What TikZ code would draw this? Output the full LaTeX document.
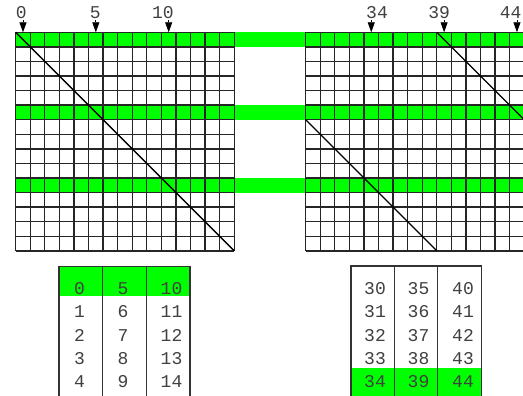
\documentclass[tikz,border=0pt]{standalone}
\usepackage{fontspec}
\setmonofont{Liberation Mono}
\usetikzlibrary{arrows.meta}
\definecolor{grn}{RGB}{0,255,0}
\begin{document}
\begin{tikzpicture}[x=1pt,y=-1pt,
  gridline/.style={line width=1.3pt, black!85},
  diag/.style={line width=1.3pt, black},
  tline/.style={line width=1.3pt, black!80},
  lbl/.style={font=\ttfamily\fontsize{18}{18}\selectfont, text=black!75, inner sep=0pt, anchor=base},
  num/.style={font=\ttfamily\fontsize{18}{18}\selectfont, text=black!75, inner sep=0pt, anchor=base west},
  arr/.style={-{Triangle[width=7pt,length=10pt]}, line width=0.8pt}]
\useasboundingbox (0,0) rectangle (523,396);
\clip (0,0) rectangle (523,396);
\def\c{14.57}
\def\xa{15.7}
\def\xb{305.7}
\def\ya{32.3}
% green bands
\foreach \r in {0,5,10}
  \fill[grn] (\xa,{\ya+\r*\c}) rectangle ({\xb+15*\c},{\ya+(\r+1)*\c});
% grids
\foreach \X in {\xa,\xb} {
  \foreach \i in {0,...,15} {
    \draw[gridline] ({\X+\i*\c},\ya) -- ({\X+\i*\c},{\ya+15*\c});
    \draw[gridline] (\X,{\ya+\i*\c}) -- ({\X+15*\c},{\ya+\i*\c});
  }
}
% diagonals
\draw[diag] (\xa,\ya) -- ({\xa+15*\c},{\ya+15*\c});
\draw[diag] ({\xb+9*\c},\ya) -- ({\xb+15*\c},{\ya+6*\c});
\draw[diag] (\xb,{\ya+6*\c}) -- ({\xb+9*\c},{\ya+15*\c});
% labels and arrows
\coordinate (t0) at ({\xa+0.5*\c},\ya);
\coordinate (t5) at ({\xa+5.5*\c},\ya);
\coordinate (t10) at ({\xa+10.5*\c},\ya);
\coordinate (t34) at ({\xb+4.5*\c},\ya);
\coordinate (t39) at ({\xb+9.5*\c},\ya);
\coordinate (t44) at ({\xb+14.5*\c},\ya);
\node[lbl] (l0) at (21.3,19) {0};
\node[lbl] (l5) at (95.3,19) {5};
\node[lbl] (l10) at (163,19) {10};
\node[lbl] (l34) at (377,19) {34};
\node[lbl] (l39) at (439.2,19) {39};
\node[lbl] (l44) at (510.7,19) {44};
\foreach \n in {0,5,10,34,39,44}
  \draw[arr] ([yshift=-1pt]l\n.south -| t\n) -- (t\n);
% left table
\fill[grn] (59,266.5) rectangle (190,295.5);
\draw[tline] (59,400) -- (59,266.5) -- (190,266.5) -- (190,400);
\draw[tline] (102.7,266.5) -- (102.7,400);
\draw[tline] (146.7,266.5) -- (146.7,400);
% right table
\fill[grn] (351,368) rectangle (481.7,400);
\draw[tline] (351,400) -- (351,266) -- (481.7,266) -- (481.7,400);
\draw[tline] (394.3,266) -- (394.3,400);
\draw[tline] (437.7,266) -- (437.7,400);
% table numbers
\foreach \k in {0,...,4} {
  \pgfmathsetmacro{\yy}{294.5+\k*23.3}
  \pgfmathtruncatemacro{\a}{\k}
  \pgfmathtruncatemacro{\b}{\k+5}
  \pgfmathtruncatemacro{\cc}{\k+10}
  \node[num] (la\k) at (73.9,\yy) {\a};
  \node[num] (lb\k) at (117.5,\yy) {\b};
  \node[num] (lc\k) at (160.5,\yy) {\cc};
  \pgfmathtruncatemacro{\d}{\k+30}
  \pgfmathtruncatemacro{\e}{\k+35}
  \pgfmathtruncatemacro{\f}{\k+40}
  \node[num] (ra\k) at (364,\yy) {\d};
  \node[num] (rb\k) at (407.5,\yy) {\e};
  \node[num] (rc\k) at (452,\yy) {\f};
}
\end{tikzpicture}
\end{document}
